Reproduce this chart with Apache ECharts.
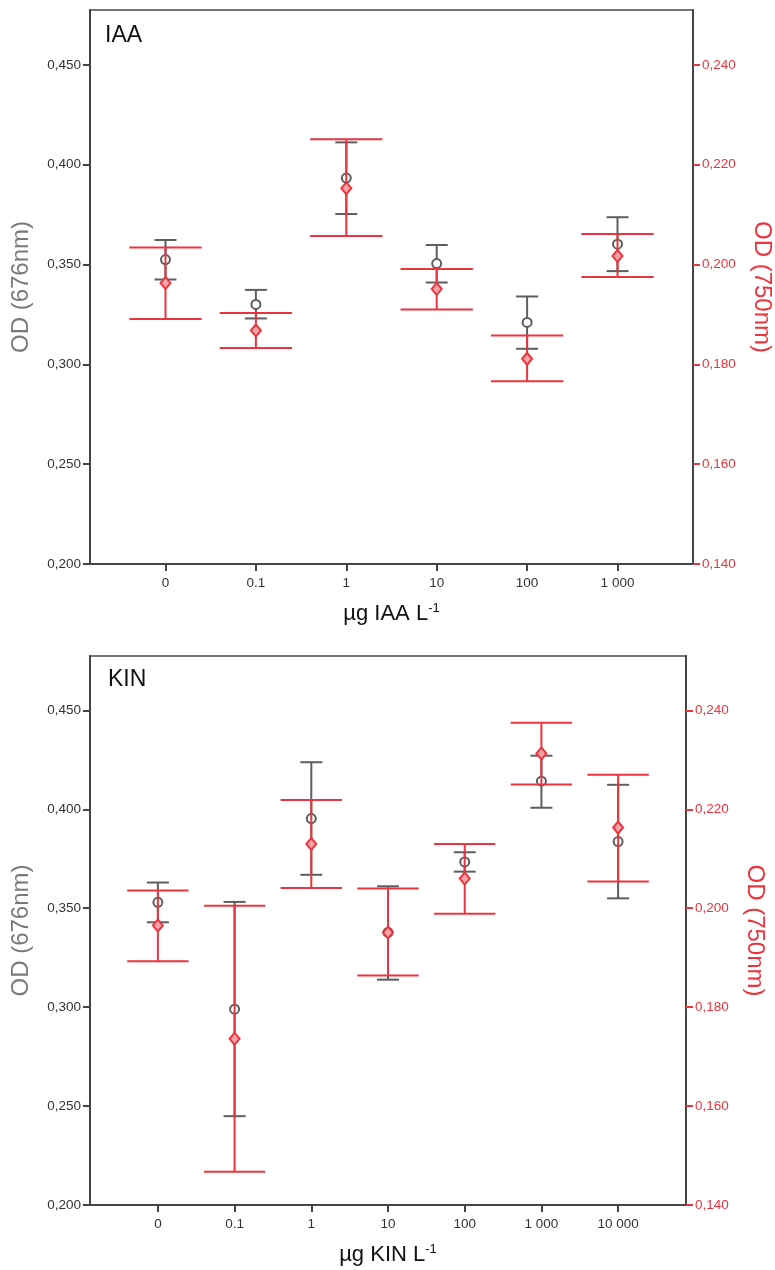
<!DOCTYPE html>
<html>
<head>
<meta charset="utf-8">
<title>OD IAA / KIN</title>
<script src="https://cdn.jsdelivr.net/npm/echarts@6/dist/echarts.min.js"></script>
<style>
    html, body { margin: 0; padding: 0; background: #fff; }
    #chart { width: 775px; height: 1270px; }
</style>
</head>
<body>
<div id="chart"></div>
<script>
// IAA panel
const iaaCats = ['0', '0.1', '1', '10', '100', '1 000'];
const iaa676Mean = [0.3525, 0.330, 0.3933, 0.3505, 0.321, 0.3602];
const iaa676Low = [0.3425, 0.323, 0.3753, 0.341, 0.3078, 0.3467];
const iaa676High = [0.3623, 0.3373, 0.4112, 0.3598, 0.334, 0.3737];
const iaa750Mean = [0.1963, 0.1868, 0.2153, 0.1951, 0.1811, 0.2017];
const iaa750Low = [0.1891, 0.1833, 0.2057, 0.191, 0.1766, 0.1975];
const iaa750High = [0.2034, 0.1903, 0.2251, 0.1991, 0.1858, 0.2061];

// KIN panel
const kinCats = ['0', '0.1', '1', '10', '100', '1 000', '10 000'];
const kin676Mean = [0.353, 0.299, 0.3953, 0.3378, 0.3734, 0.4142, 0.3837];
const kin676Low = [0.3429, 0.2449, 0.3669, 0.3139, 0.3685, 0.4008, 0.355];
const kin676High = [0.363, 0.3532, 0.4238, 0.3611, 0.3783, 0.4271, 0.4124];
const kin750Mean = [0.1965, 0.1736, 0.2130, 0.1951, 0.2060, 0.2313, 0.2163];
const kin750Low = [0.1893, 0.1467, 0.2041, 0.1864, 0.1989, 0.2250, 0.2054];
const kin750High = [0.2036, 0.2005, 0.2219, 0.2040, 0.2130, 0.2375, 0.2270];

// tick labels
const leftTicks = [0.20, 0.25, 0.30, 0.35, 0.40, 0.45];
const rightTicks = [0.14, 0.16, 0.18, 0.20, 0.22, 0.24];

const GRAY = '#5e5e5e';
const RED = '#ec343e';
const FONT = '"Liberation Sans", Arial, sans-serif';

let myChart = echarts.init(document.getElementById('chart'));

function fmt(v) {
    return v.toFixed(3).replace('.', ',');
}

function errBars(low, high) {
    return low.map((l, i) => [i, l, high[i]]);
}

function barRender(capFn, color) {
    return function (params, api) {
        let x = api.value(0);
        let p1 = api.coord([x, api.value(1)]);
        let p2 = api.coord([x, api.value(2)]);
        let half = capFn(api.size([1, 0])[0]);
        let style = {stroke: color, lineWidth: 2, fill: null};
        return {
            type: 'group',
            children: [
                {type: 'line', shape: {x1: p1[0], y1: p1[1], x2: p2[0], y2: p2[1]}, style: style},
                {type: 'line', shape: {x1: p1[0] - half, y1: p1[1], x2: p1[0] + half, y2: p1[1]}, style: style},
                {type: 'line', shape: {x1: p2[0] - half, y1: p2[1], x2: p2[0] + half, y2: p2[1]}, style: style}
            ]
        };
    };
}

function xAxisFor(idx, cats, xmin, xmax, name) {
    let vals = cats.map((c, i) => i);
    return {
        gridIndex: idx,
        type: 'value',
        min: xmin,
        max: xmax,
        name: name,
        nameLocation: 'middle',
        nameGap: 38,
        nameTextStyle: {
            rich: {
                a: {fontSize: 22, color: '#111', fontFamily: FONT, lineHeight: 24},
                s: {fontSize: 13, color: '#111', fontFamily: FONT, lineHeight: 12, verticalAlign: 'top'}
            }
        },
        splitLine: {show: false},
        axisLine: {onZero: false, lineStyle: {color: '#444', width: 2}},
        axisTick: {customValues: vals, length: 7, lineStyle: {color: '#444', width: 2}},
        axisLabel: {
            customValues: vals,
            margin: 12,
            fontSize: 13.5,
            color: '#333',
            fontFamily: FONT,
            formatter: v => cats[Math.round(v)]
        }
    };
}

function yAxesFor(idx) {
    return [
        {
            gridIndex: idx,
            type: 'value',
            position: 'left',
            min: 0.2,
            max: 0.4775,
            name: 'OD (676nm)',
            nameLocation: 'middle',
            nameGap: 57,
            nameTextStyle: {fontSize: 24, color: '#7a7a7a', fontFamily: FONT},
            splitLine: {show: false},
            axisLine: {show: true, onZero: false, lineStyle: {color: '#444', width: 2}},
            axisTick: {customValues: leftTicks, length: 7, lineStyle: {color: '#444', width: 2}},
            axisLabel: {customValues: leftTicks, margin: 9, fontSize: 13.5, color: '#333', fontFamily: FONT, formatter: fmt}
        },
        {
            gridIndex: idx,
            type: 'value',
            position: 'right',
            min: 0.14,
            max: 0.251,
            name: 'OD (750nm)',
            nameLocation: 'middle',
            nameGap: 57,
            nameRotate: -90,
            nameTextStyle: {fontSize: 24, color: RED, fontFamily: FONT},
            splitLine: {show: false},
            axisLine: {show: true, onZero: false, lineStyle: {color: '#444', width: 2}},
            axisTick: {customValues: rightTicks, length: 7, lineStyle: {color: RED, width: 2}},
            axisLabel: {customValues: rightTicks, margin: 9, fontSize: 13.5, color: RED, fontFamily: FONT, formatter: fmt}
        }
    ];
}

function seriesFor(idx, m676, l676, h676, m750, l750, h750) {
    let xi = idx, y0 = idx * 2, y1 = idx * 2 + 1;
    return [
        {
            type: 'custom',
            xAxisIndex: xi,
            yAxisIndex: y0,
            renderItem: barRender(() => 11, GRAY),
            data: errBars(l676, h676),
            z: 2
        },
        {
            type: 'scatter',
            xAxisIndex: xi,
            yAxisIndex: y0,
            symbol: 'circle',
            symbolSize: 9,
            itemStyle: {color: '#fff', borderColor: GRAY, borderWidth: 2, opacity: 1},
            data: m676.map((v, i) => [i, v]),
            z: 3
        },
        {
            type: 'custom',
            xAxisIndex: xi,
            yAxisIndex: y1,
            renderItem: barRender(w => w * 0.4, RED),
            data: errBars(l750, h750),
            z: 4
        },
        {
            type: 'scatter',
            xAxisIndex: xi,
            yAxisIndex: y1,
            symbol: 'diamond',
            symbolSize: [10, 12],
            itemStyle: {color: '#f6a3a8', borderColor: RED, borderWidth: 2, opacity: 1},
            data: m750.map((v, i) => [i, v]),
            z: 5
        }
    ];
}

let option = {
    backgroundColor: '#fff',
    animation: false,
    title: [
        {text: 'IAA', left: 100, top: 19, textStyle: {fontSize: 23, fontWeight: 'normal', color: '#111', fontFamily: FONT}},
        {text: 'KIN', left: 103, top: 663, textStyle: {fontSize: 23, fontWeight: 'normal', color: '#111', fontFamily: FONT}}
    ],
    grid: [
        {left: 90, top: 10, width: 603, height: 554, outerBoundsMode: 'none', show: true, borderColor: '#777', borderWidth: 2, backgroundColor: '#fff'},
        {left: 90, top: 656, width: 596, height: 549, outerBoundsMode: 'none', show: true, borderColor: '#777', borderWidth: 2, backgroundColor: '#fff'}
    ],
    xAxis: [
        xAxisFor(0, iaaCats, -0.835, 5.835, '{a|µg IAA L}{s|-1}'),
        xAxisFor(1, kinCats, -0.885, 6.885, '{a|µg KIN L}{s|-1}')
    ],
    yAxis: yAxesFor(0).concat(yAxesFor(1)),
    series: seriesFor(0, iaa676Mean, iaa676Low, iaa676High, iaa750Mean, iaa750Low, iaa750High)
        .concat(seriesFor(1, kin676Mean, kin676Low, kin676High, kin750Mean, kin750Low, kin750High))
};

if (option && typeof option === "object") {
    myChart.setOption(option, true);
}
</script>
</body>
</html>
